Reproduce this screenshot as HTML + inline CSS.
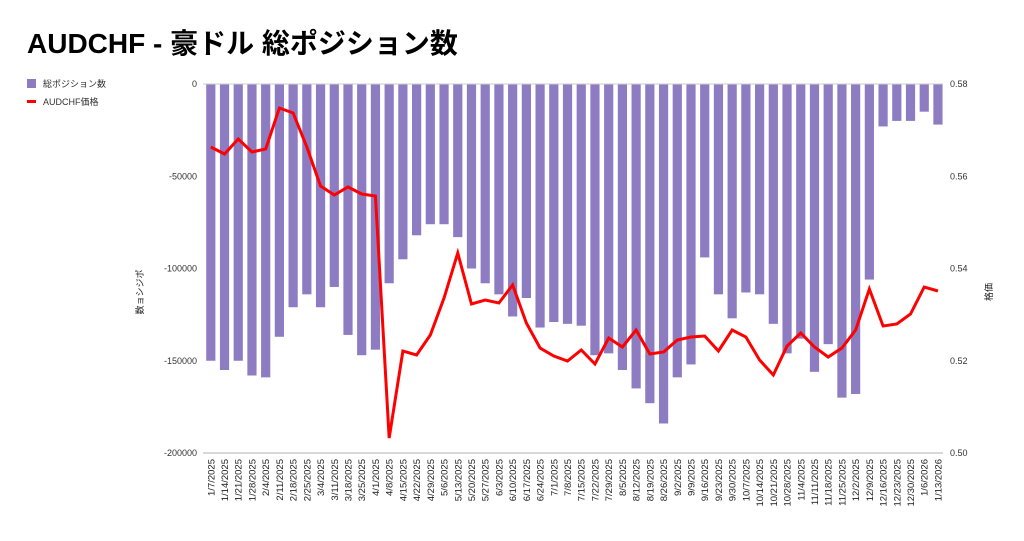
<!DOCTYPE html>
<html><head><meta charset="utf-8"><style>
body{margin:0;background:#fff;width:1024px;height:536px;overflow:hidden;font-family:"Liberation Sans","Noto Sans CJK JP",sans-serif}
</style></head><body>
<svg id="s" width="1024" height="536" xmlns="http://www.w3.org/2000/svg" font-family="Liberation Sans, Noto Sans CJK JP, sans-serif">
<text x="27" y="53" font-size="28" font-weight="bold" fill="#000">AUDCHF - 豪ドル 総ポジション数</text>
<rect x="27" y="79" width="9" height="9" fill="#8e7cc3"/>
<text x="43" y="87" font-size="9" fill="#333">総ポジション数</text>
<rect x="27" y="100" width="9" height="3" fill="#ff0000"/>
<text x="43" y="105" font-size="9" fill="#333">AUDCHF価格</text>
<text transform="translate(143,292) rotate(-90)" font-size="9" fill="#222" text-anchor="middle">数ョシジポ</text>
<text transform="translate(992,292) rotate(-90)" font-size="9" fill="#222" text-anchor="middle">格価</text>
<g id="g"></g>
</svg>
<script>
var g=document.getElementById('g'),h='';
var yl=[[84,'0'],[176.25,'-50000'],[268.5,'-100000'],[360.75,'-150000'],[453,'-200000']];
var yr=['0.58','0.56','0.54','0.52','0.50'];
yl.forEach(function(a,i){h+='<text x="197" y="'+(a[0]+3)+'" font-size="9" fill="#333" text-anchor="end">'+a[1]+'</text>';
h+='<text x="950" y="'+(a[0]+3)+'" font-size="9" fill="#333">'+yr[i]+'</text>';});
var v=[150,155,150,158,159,137,121,114,121,110,136,147,144,108,95,82,76,76,83,100,108,114,126,116,132,129,130,131,147,146,155,165,173,184,159,152,94,114,127,113,114,130,146,138,156,141,170,168,106,23,20,20,15,22];
var ly=[147,154,139,152,149,108,113,147,186,195,187,194,196,438,351,355,335,298,253,304,300,303,285,323,348,356,361,350,364,338,347,330,354,352,340,337,336,351,330,337,360,375,346,333,347,357,348,330,289,326,324,314,287,291];
var d=new Date(2025,0,7),pts=[];
for(var i=0;i<54;i++){var cx=210.8+i*13.72;
var bh=v[i]*1000*369/200000;
h+='<rect x="'+(cx-4.6)+'" y="84" width="9.2" height="'+bh+'" fill="#8e7cc3"/>';
var lab=(d.getMonth()+1)+'/'+d.getDate()+'/'+d.getFullYear();
h+='<text transform="translate('+(cx+3.5)+',459) rotate(-90)" font-size="9.5" fill="#222" text-anchor="end">'+lab+'</text>';
d.setDate(d.getDate()+7);pts.push(cx+','+ly[i]);}
h+='<line x1="203" y1="84" x2="943" y2="84" stroke="#ccc"/><line x1="203" y1="453" x2="943" y2="453" stroke="#ccc" stroke-width="1.5"/>';
h+='<polyline points="'+pts.join(' ')+'" fill="none" stroke="#ff0000" stroke-width="3" stroke-linejoin="miter"/>';
g.innerHTML=h;
</script>
</body></html>
